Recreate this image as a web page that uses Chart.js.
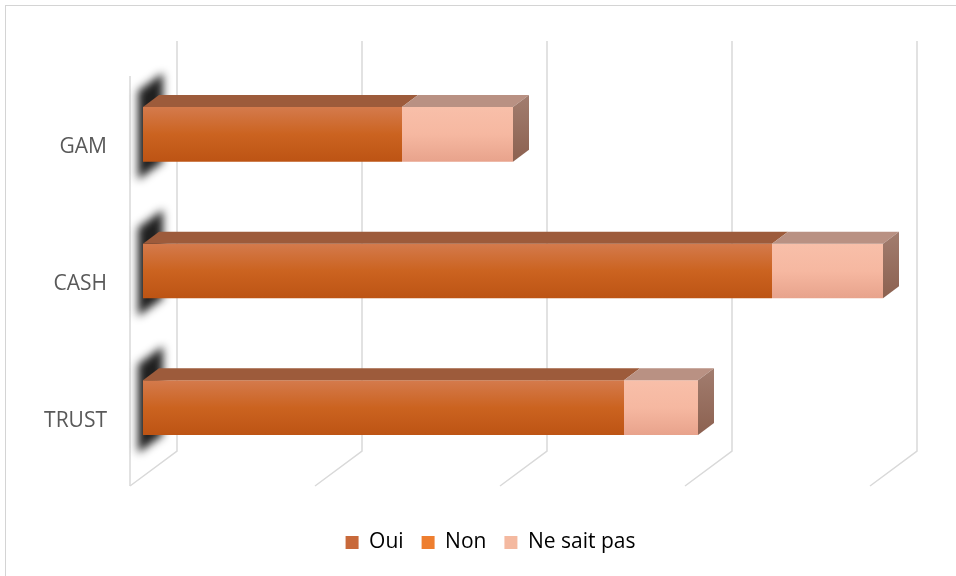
<!DOCTYPE html>
<html>
<head>
<meta charset="utf-8">
<script src="https://cdn.jsdelivr.net/npm/chart.js@4"></script>
<style>
  html, body { margin: 0; padding: 0; background: #fff; overflow: hidden; }
  #frame { position: absolute; left: 5px; top: 5px; width: 1000px; height: 1000px; border: 1px solid #d4d4d4; }
  #chart { position: absolute; left: 0; top: 0; }
</style>
</head>
<body>
<div id="frame"></div>
<canvas id="chart" width="956" height="576"></canvas>
<script>
// données
const categories = ['GAM', 'CASH', 'TRUST'];
const oui = [28, 68, 52];
const non = [0, 0, 0];
const neSaitPas = [12, 12, 8];
const xTicks = [0, 20, 40, 60, 80];

// profondeur du 3D (pixels)
const DEPTH = { barDx: 16, barDy: 12, frontDx: -13, frontDy: 10, backDx: 34, backDy: -25 };
const LEGEND_SHIFT = 49; // légende centrée sous tout le cadre, pas sous la zone du graphique

// gradient vertical pour la face avant d'une barre
function faceGradient(stops, solid) {
  return (ctx) => {
    const chart = ctx.chart;
    if (ctx.type !== 'data' || !chart.chartArea) return solid;
    const y = chart.scales.y.getPixelForValue(ctx.dataIndex);
    const g = chart.ctx.createLinearGradient(0, y - 27, 0, y + 27);
    g.addColorStop(0, stops[0]);
    g.addColorStop(0.5, stops[1]);
    g.addColorStop(1, stops[2]);
    return g;
  };
}

const topColors = ['#9d5b3b', '#b8622a', '#b99183'];
const sideColors = [['#8c4c28', '#7a3f1e'], ['#a65a22', '#8f4b1a'], ['#a27d6f', '#8c6150']];

const bar3d = {
  id: 'bar3d',
  afterLayout(chart) {
    chart.legend.left += LEGEND_SHIFT;
    chart.legend.right += LEGEND_SHIFT;
  },
  beforeDatasetsDraw(chart) {
    const { ctx, chartArea, scales } = chart;
    const x = scales.x;
    const top = chartArea.top, bottom = chartArea.bottom;
    ctx.save();
    ctx.strokeStyle = '#d9d9d9';
    ctx.lineWidth = 1.5;
    // murs : fond + sol
    xTicks.forEach(v => {
      const px = x.getPixelForValue(v);
      ctx.beginPath();
      ctx.moveTo(px + DEPTH.backDx, top + DEPTH.backDy);
      ctx.lineTo(px + DEPTH.backDx, bottom + DEPTH.backDy);
      ctx.lineTo(px + DEPTH.frontDx, bottom + DEPTH.frontDy);
      ctx.stroke();
    });
    // mur gauche, bord avant
    const x0 = x.getPixelForValue(0);
    ctx.beginPath();
    ctx.moveTo(x0 + DEPTH.frontDx, top + DEPTH.frontDy);
    ctx.lineTo(x0 + DEPTH.frontDx, bottom + DEPTH.frontDy);
    ctx.stroke();

    // ombre portée sur le mur gauche (forme dessinée hors champ, seule l'ombre floue revient)
    const off = 2000;
    const meta = chart.getDatasetMeta(0);
    ctx.shadowColor = 'rgba(20,20,20,0.95)';
    ctx.shadowBlur = 9;
    ctx.shadowOffsetX = off;
    ctx.fillStyle = '#000';
    meta.data.forEach(el => {
      const t = el.y - el.height / 2, b = el.y + el.height / 2;
      ctx.beginPath();
      ctx.moveTo(x0 - 5 - off, t - 16);
      ctx.lineTo(x0 + 20 - off, t - 34);
      ctx.lineTo(x0 + 20 - off, b);
      ctx.lineTo(x0 - 5 - off, b + 18);
      ctx.closePath();
      ctx.fill();
    });
    ctx.restore();
  },
  afterDatasetsDraw(chart) {
    const { ctx } = chart;
    const dx = DEPTH.barDx, dy = DEPTH.barDy;
    ctx.save();
    const n = chart.data.labels.length;
    for (let i = 0; i < n; i++) {
      let last = -1;
      chart.data.datasets.forEach((ds, d) => {
        const el = chart.getDatasetMeta(d).data[i];
        const left = Math.min(el.base, el.x), right = Math.max(el.base, el.x);
        if (right - left < 0.5) return;
        last = d;
        const t = el.y - el.height / 2;
        ctx.fillStyle = topColors[d];
        ctx.beginPath();
        ctx.moveTo(left, t);
        ctx.lineTo(right, t);
        ctx.lineTo(right + dx, t - dy);
        ctx.lineTo(left + dx, t - dy);
        ctx.closePath();
        ctx.fill();
      });
      if (last >= 0) {
        const el = chart.getDatasetMeta(last).data[i];
        const right = Math.max(el.base, el.x);
        const t = el.y - el.height / 2, b = el.y + el.height / 2;
        const g = ctx.createLinearGradient(0, t - dy, 0, b);
        g.addColorStop(0, sideColors[last][0]);
        g.addColorStop(1, sideColors[last][1]);
        ctx.fillStyle = g;
        ctx.beginPath();
        ctx.moveTo(right, t);
        ctx.lineTo(right + dx, t - dy);
        ctx.lineTo(right + dx, b - dy);
        ctx.lineTo(right, b);
        ctx.closePath();
        ctx.fill();
      }
    }
    ctx.restore();
  }
};

const font = { family: '"Open Sans", sans-serif', size: 21 };

new Chart(document.getElementById('chart').getContext('2d'), {
  type: 'bar',
  data: {
    labels: categories,
    datasets: [
      { label: 'Oui', data: oui, backgroundColor: faceGradient(['#d47a4c', '#cb6320', '#bd5414'], '#c55a11') },
      { label: 'Non', data: non, backgroundColor: faceGradient(['#f38b45', '#ed7d31', '#e06d1f'], '#ed7d31') },
      { label: 'Ne sait pas', data: neSaitPas, backgroundColor: faceGradient(['#f8bfa9', '#f6b8a1', '#e8a38c'], '#f4b9a0') }
    ]
  },
  options: {
    indexAxis: 'y',
    responsive: false,
    animation: false,
    categoryPercentage: 1,
    barPercentage: 0.4,
    layout: { padding: { left: 0, top: 66, right: 73, bottom: 13 } },
    plugins: {
      legend: {
        position: 'bottom',
        labels: {
          font: font,
          color: '#595959',
          boxWidth: 13,
          boxHeight: 13,
          padding: 18,
          generateLabels: (chart) => chart.data.datasets.map((ds, i) => ({
            text: ds.label,
            fillStyle: ['#c8693a', '#ee7e2f', '#f4b9a0'][i],
            strokeStyle: 'rgba(0,0,0,0)',
            lineWidth: 0,
            datasetIndex: i
          }))
        }
      },
      tooltip: { enabled: false }
    },
    scales: {
      x: {
        stacked: true,
        min: 0,
        max: 80,
        ticks: { display: false, stepSize: 20 },
        grid: { display: false },
        border: { display: false },
        afterFit: (s) => { s.height = 38; }
      },
      y: {
        stacked: true,
        grid: { display: false, drawTicks: false },
        border: { display: false },
        ticks: { font: font, color: '#595959', padding: 36, labelOffset: 13 },
        afterFit: (s) => { s.width = 143; }
      }
    }
  },
  plugins: [bar3d]
});
</script>
</body>
</html>
